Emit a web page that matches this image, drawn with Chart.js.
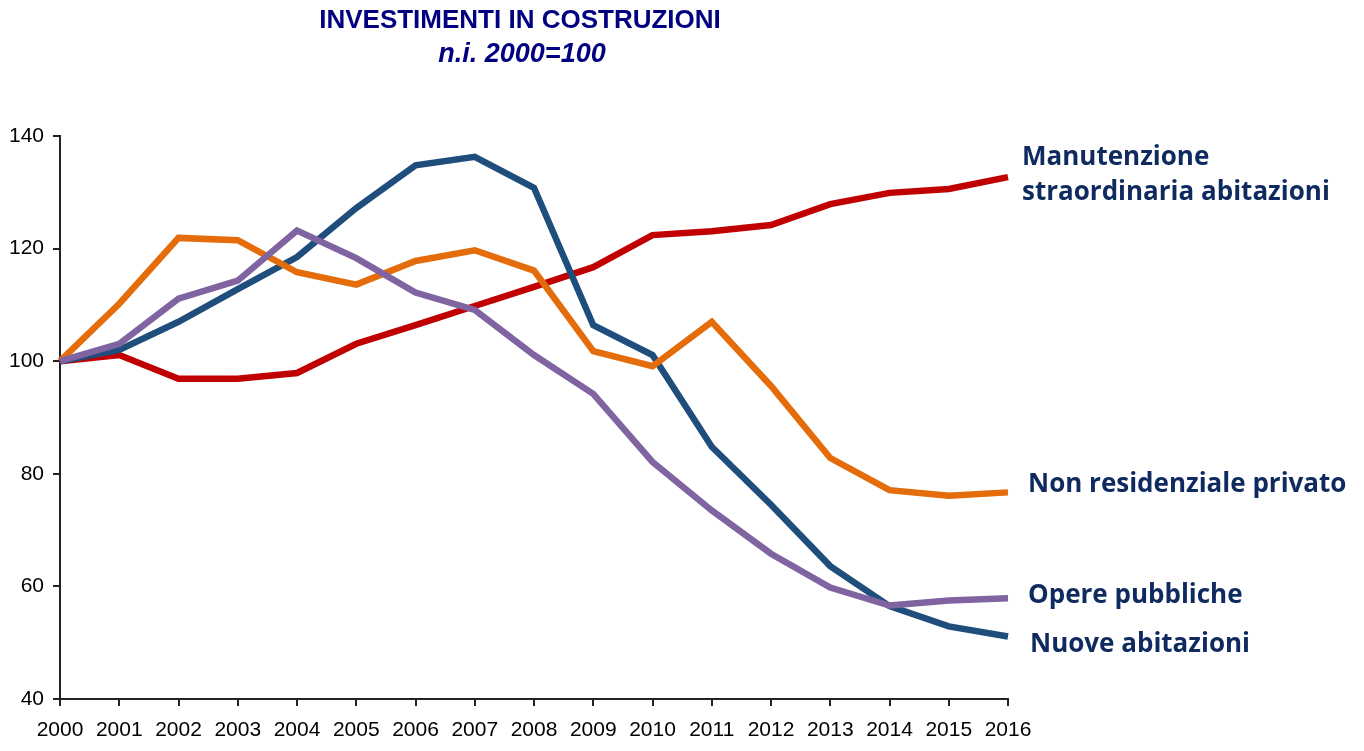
<!DOCTYPE html>
<html>
<head>
<meta charset="utf-8">
<script src="https://cdn.jsdelivr.net/npm/chart.js@4.4.1/dist/chart.umd.min.js"></script>
<style>
  html, body { margin: 0; padding: 0; background: #fff; }
  #wrap { width: 1364px; height: 751px; }
</style>
</head>
<body>
<div id="wrap"><canvas id="chart" width="1364" height="751"></canvas></div>
<script>
// years on the x axis
const years = ['2000', '2001', '2002', '2003', '2004', '2005', '2006', '2007', '2008',
               '2009', '2010', '2011', '2012', '2013', '2014', '2015', '2016'];

// index numbers, 2000 = 100
const manutenzione = [100, 101.1, 96.9, 96.9, 97.9, 103.1, 106.4, 109.8, 113.2, 116.7, 122.4, 123.1, 124.2, 127.9, 129.9, 130.6, 132.7];
const nuoveAbitazioni = [100, 102.0, 107.0, 112.8, 118.5, 127.2, 134.8, 136.3, 130.8, 106.4, 101.1, 84.8, 74.5, 63.6, 56.5, 52.9, 51.1];
const nonResidenziale = [100, 110.2, 121.9, 121.5, 115.8, 113.6, 117.8, 119.7, 116.1, 101.8, 99.1, 107.0, 95.6, 82.8, 77.1, 76.1, 76.7];
const operePubbliche = [100, 103.1, 111.1, 114.3, 123.2, 118.3, 112.2, 109.1, 101.1, 94.2, 82.1, 73.5, 65.8, 59.8, 56.6, 57.5, 57.9];

// y axis range
const yMin = 40, yMax = 140, yStep = 20;

const navy = '#0e2a5f';
const axisFont = '"Liberation Sans", Arial, sans-serif';

const annotations = {
    id: 'annotations',
    afterDraw: function (chart) {
        const ctx = chart.ctx;
        ctx.save();
        ctx.textAlign = 'center';
        ctx.textBaseline = 'middle';
        ctx.fillStyle = '#000080';
        ctx.font = 'bold 26px ' + axisFont;
        ctx.fillText('INVESTIMENTI IN COSTRUZIONI', 520, 21);
        ctx.font = 'italic bold 27px ' + axisFont;
        ctx.fillText('n.i. 2000=100', 522, 55);

        // series labels on the right
        ctx.textAlign = 'left';
        ctx.fillStyle = navy;
        ctx.font = 'bold 26px "Open Sans", "Noto Sans", sans-serif';
        ctx.fillText('Manutenzione', 1022, 158);
        ctx.fillText('straordinaria abitazioni', 1022, 193);
        ctx.fillText('Non residenziale privato', 1028, 485);
        ctx.fillText('Opere pubbliche', 1028, 596);
        ctx.fillText('Nuove abitazioni', 1030, 645);
        ctx.restore();
    }
};

function series(data, color) {
    return {
        data: data,
        borderColor: color,
        backgroundColor: color,
        borderWidth: 6.5,
        pointRadius: 0,
        tension: 0,
        fill: false
    };
}

new Chart(document.getElementById('chart'), {
    type: 'line',
    data: {
        labels: years,
        datasets: [
            series(operePubbliche, '#8064a2'),
            series(nonResidenziale, '#e46c0a'),
            series(nuoveAbitazioni, '#1f4e7d'),
            series(manutenzione, '#c00000')
        ]
    },
    options: {
        responsive: false,
        animation: false,
        layout: { padding: { top: 136, right: 356, bottom: 0, left: 0 } },
        plugins: {
            legend: { display: false },
            tooltip: { enabled: false }
        },
        scales: {
            x: {
                offset: false,
                border: { color: '#222', width: 2 },
                grid: { display: true, drawOnChartArea: false, drawTicks: true, tickLength: 7, color: '#222', lineWidth: 2 },
                ticks: { color: '#000', font: { family: axisFont, size: 21 }, maxRotation: 0, autoSkip: false, padding: 12 },
                afterFit: function (scale) { scale.height = 52; }
            },
            y: {
                min: yMin,
                max: yMax,
                border: { color: '#222', width: 2 },
                grid: { display: true, drawOnChartArea: false, drawTicks: true, tickLength: 7, color: '#222', lineWidth: 2 },
                ticks: { stepSize: yStep, color: '#000', font: { family: axisFont, size: 21 }, padding: 9 },
                afterFit: function (scale) { scale.width = 60; }
            }
        }
    },
    plugins: [annotations]
});
</script>
</body>
</html>
